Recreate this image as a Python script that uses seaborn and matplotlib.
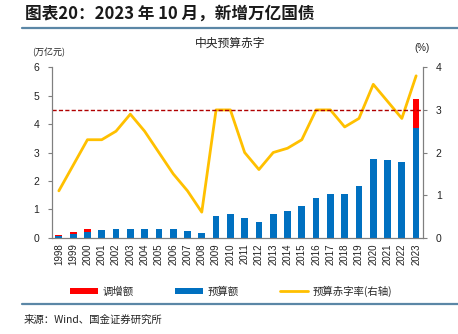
import matplotlib
matplotlib.use("Agg")
import matplotlib.pyplot as plt
import seaborn as sns
import pandas as pd
import numpy as np
from matplotlib.lines import Line2D
from matplotlib.patches import Patch

years = list(range(1998, 2024))
budget = [0.05, 0.14, 0.21, 0.26, 0.31, 0.32, 0.32, 0.30, 0.295, 0.245, 0.18,
          0.75, 0.85, 0.70, 0.55, 0.85, 0.95, 1.12, 1.40, 1.55, 1.55, 1.83,
          2.78, 2.75, 2.65, 3.88]
increase = [0.06, 0.05, 0.08, 0, 0, 0, 0, 0, 0, 0, 0,
            0, 0, 0, 0, 0, 0, 0, 0, 0, 0, 0,
            0, 0, 0, 1.00]
deficit_rate = [1.1, 1.7, 2.3, 2.3, 2.5, 2.9, 2.5, 2.0, 1.5, 1.1, 0.6,
                3.0, 3.0, 2.0, 1.6, 2.0, 2.1, 2.3, 3.0, 3.0, 2.6, 2.8,
                3.6, 3.2, 2.8, 3.8]
red_line_level = 3.0

df = pd.DataFrame({"year": years, "budget": budget, "increase": increase,
                   "rate": deficit_rate})
df["total"] = df["budget"] + df["increase"]

sns.set_theme(style="white")
CJK = ["Noto Sans CJK SC", "DejaVu Sans"]
LAT = ["Liberation Sans", "DejaVu Sans"]
plt.rcParams["font.family"] = LAT

RED = "#FF0000"
BLUE = "#0070C0"
YEL = "#FFC000"
GRAY = "#7f7f7f"

fig = plt.figure(figsize=(4.58, 3.34), dpi=100)
ax = fig.add_axes([0.1129, 0.2883, 0.8113, 0.5102])

sns.barplot(data=df, x="year", y="total", native_scale=True, color=RED,
            saturation=1, width=0.47, ax=ax, linewidth=0)
sns.barplot(data=df, x="year", y="budget", native_scale=True, color=BLUE,
            saturation=1, width=0.47, ax=ax, linewidth=0)

ax2 = ax.twinx()
sns.lineplot(data=df, x="year", y="rate", color=YEL, linewidth=2.0, ax=ax2)
ax2.axhline(red_line_level, color="#B00000", linestyle=(0, (3.0, 1.6)), linewidth=1.0)

ax.set_xlim(1997.5, 2023.5)
ax.set_ylim(0, 6)
ax2.set_ylim(0, 4)
ax.set_yticks(range(0, 7))
ax2.set_yticks(range(0, 5))
ax.set_xticks(years)
ax.set_xticklabels([str(y) for y in years], rotation=90, fontsize=7, color="#222222")
ax.set_xticks(np.arange(1997.5, 2024.0, 1.0), minor=True)
ax.tick_params(axis="x", which="major", length=0, pad=4)
ax.tick_params(axis="x", which="minor", length=3, width=0.8, color=GRAY, direction="out")
ax.tick_params(axis="y", length=3, width=0.8, color=GRAY, direction="out",
               labelsize=7.5, labelcolor="#222222", pad=6)
ax2.tick_params(axis="y", length=3, width=0.8, color=GRAY, direction="out",
                labelsize=7.5, labelcolor="#222222", pad=6)
for a in (ax, ax2):
    a.set_xlabel("")
    a.set_ylabel("")
    a.spines["top"].set_visible(False)
    for s in ("left", "right", "bottom"):
        a.spines[s].set_color(GRAY)
        a.spines[s].set_linewidth(0.8)
    a.grid(False)

# Texts
fig.text(25/458, 1 - 14/334, "图表20：2023 年 10 月，新增万亿国债", fontsize=12,
         fontweight="bold", style="italic", family=CJK, va="center", ha="left",
         color="#1a1a1a")
fig.add_artist(Line2D([22/458, 1.0], [1 - 28/334] * 2, color="#5b87a6", linewidth=1.6))
fig.text(230/458, 1 - 43/334, "中央预算赤字", fontsize=8.5, family=CJK,
         ha="center", va="center", color="#222222")
fig.text(49/458, 1 - 53/334, "(万亿元)", fontsize=6.5, family=CJK,
         ha="center", va="center", color="#222222")
fig.text(422/458, 1 - 48/334, "(%)", fontsize=7, family=LAT,
         ha="center", va="center", color="#222222")

handles = [Patch(facecolor=RED, edgecolor="none"),
           Patch(facecolor=BLUE, edgecolor="none"),
           Line2D([0], [0], color=YEL, linewidth=2)]
labels = ["调增额", "预算额", "预算赤字率(右轴)"]
fig.legend(handles, labels, loc="center", bbox_to_anchor=(231/458, 1 - 291/334),
           ncol=3, frameon=False, prop={"family": CJK, "size": 7.5},
           handlelength=2.7, handleheight=0.6, handletextpad=0.4,
           columnspacing=4.0)

fig.add_artist(Line2D([22/458, 1.0], [1 - 304/334] * 2, color="#5b87a6", linewidth=1.6))
fig.text(24/458, 1 - 320/334, "来源：Wind、国金证券研究所", fontsize=7.5, family=CJK,
         ha="left", va="center", color="#222222")

fig.savefig("out.png", dpi=100)
